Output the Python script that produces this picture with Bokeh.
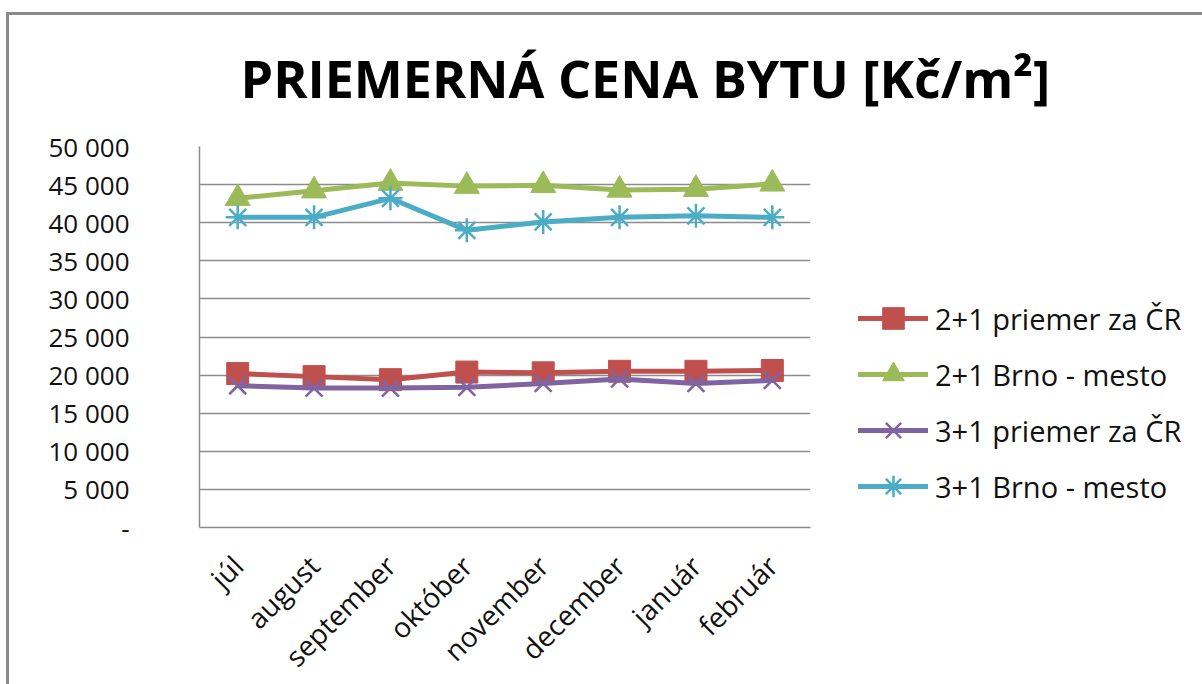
from bokeh.plotting import figure
from bokeh.models import (FactorRange, Range1d, FixedTicker, Legend, LegendItem, Title, ColumnDataSource)
from bokeh.embed import file_html
from bokeh.resources import INLINE

months = ["júl", "august", "september", "október", "november", "december", "január", "február"]
s_21_cr = [20200, 19800, 19400, 20400, 20300, 20500, 20500, 20600]
s_21_brno = [43200, 44200, 45200, 44800, 44900, 44300, 44400, 45100]
s_31_cr = [18600, 18300, 18300, 18400, 18900, 19500, 18900, 19300]
s_31_brno = [40700, 40700, 43200, 39000, 40100, 40700, 40900, 40700]
series_names = ["2+1 priemer za ČR", "2+1 Brno - mesto", "3+1 priemer za ČR", "3+1 Brno - mesto"]
y_ticks = [0, 5000, 10000, 15000, 20000, 25000, 30000, 35000, 40000, 45000, 50000]
y_labels = ["-", "5 000", "10 000", "15 000", "20 000", "25 000", "30 000", "35 000", "40 000", "45 000", "50 000"]
title_text = "PRIEMERNÁ CENA BYTU [Kč/m²]"

FONT = "Open Sans"
GRID = "#8c8c8c"

p = figure(x_range=FactorRange(factors=months, range_padding=0), y_range=Range1d(0, 50000),
           frame_width=611, frame_height=381, output_backend="svg", toolbar_location=None,
           min_border_left=199, min_border_top=146, min_border_right=0, min_border_bottom=150)
p.outline_line_color = None
p.background_fill_color = "white"
p.border_fill_color = None

p.title = Title(text=title_text, align="left", offset=41, standoff=68,
                text_font=FONT, text_font_style="bold", text_font_size="52px", text_color="#000000")

p.xgrid.grid_line_color = None
p.ygrid.grid_line_color = GRID
p.ygrid.grid_line_width = 1.5
p.yaxis.ticker = FixedTicker(ticks=y_ticks)
p.yaxis.major_label_overrides = {t: l for t, l in zip(y_ticks, y_labels)}
p.yaxis.major_tick_line_color = None
p.yaxis.minor_tick_line_color = None
p.yaxis.axis_line_color = GRID
p.yaxis.axis_line_width = 1.5
p.yaxis.major_label_standoff = 64
p.yaxis.major_label_text_font = FONT
p.yaxis.major_label_text_font_size = "26px"
p.yaxis.major_label_text_color = "#111111"

p.xaxis.axis_line_color = GRID
p.xaxis.axis_line_width = 1.5
p.xaxis.major_tick_line_color = None
p.xaxis.minor_tick_line_color = None
p.xaxis.major_label_orientation = 0.785398
p.xaxis.major_label_standoff = 27
p.xaxis.major_label_text_font = FONT
p.xaxis.major_label_text_font_size = "28px"
p.xaxis.major_label_text_color = "#111111"

src = ColumnDataSource(dict(x=months, a=s_21_cr, b=s_21_brno, c=s_31_cr, d=s_31_brno))

specs = [
    ("a", "#C0504D", "square", 22),
    ("b", "#9BBB59", "triangle", 25),
    ("c", "#8064A2", "x", 24),
    ("d", "#4BACC6", "asterisk", 24),
]
items = []
for (col, color, marker, size), name in zip(specs, series_names):
    lr = p.line("x", col, source=src, line_color=color, line_width=5, line_join="round", line_cap="round")
    if marker in ("x", "asterisk"):
        sr = p.scatter("x", col, source=src, marker=marker, size=size, line_color=color, line_width=2.5)
    else:
        sr = p.scatter("x", col, source=src, marker=marker, size=size, fill_color=color, line_color=color, line_width=1)
    items.append(LegendItem(label=name, renderers=[lr, sr]))

legend = Legend(items=items, location=(48, 14), orientation="vertical",
                glyph_width=70, glyph_height=54, label_height=54, spacing=2,
                label_standoff=7, padding=0, margin=0, border_line_color=None,
                background_fill_alpha=0, label_text_font=FONT, label_text_font_size="29px",
                label_text_color="#111111")
p.add_layout(legend, "right")

p.styles = {
    "background": ("linear-gradient(#8a8a8a, #8a8a8a) 6px 12px / 3px 100% no-repeat, "
                   "linear-gradient(#8a8a8a, #8a8a8a) 6px 12px / 100% 3px no-repeat, white"),
}

open("out.html", "w").write(file_html(p, INLINE))
